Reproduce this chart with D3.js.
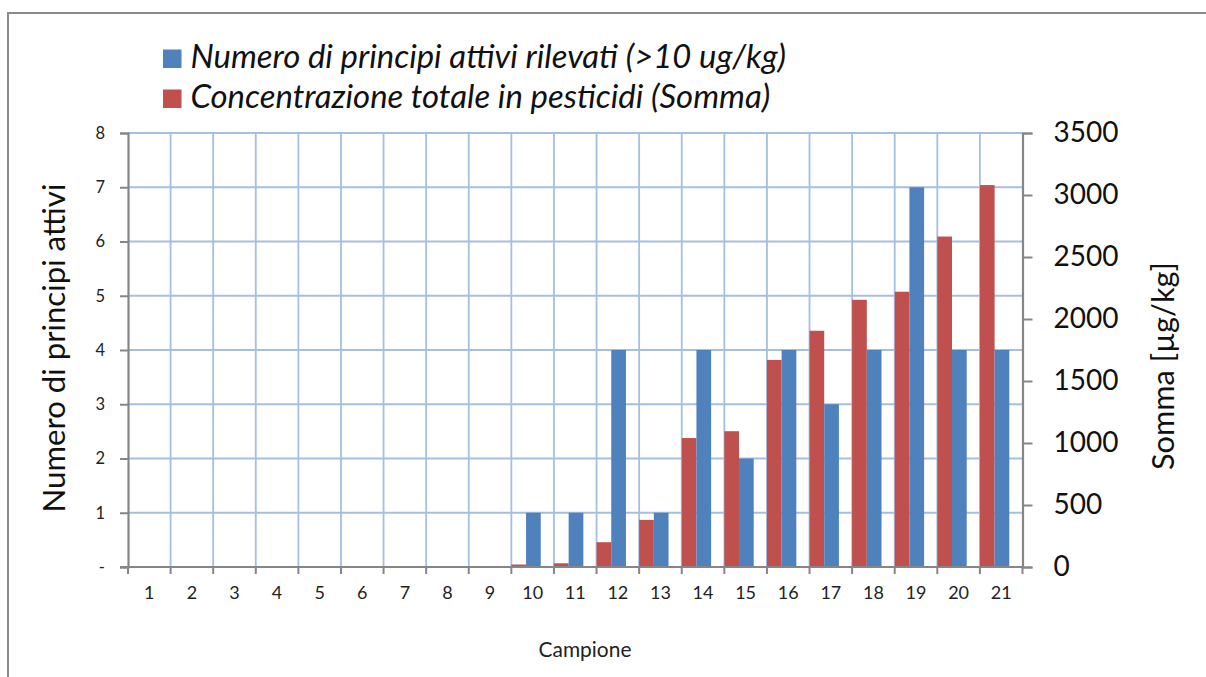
<!DOCTYPE html>
<html><head><meta charset="utf-8">
<script src="https://cdn.jsdelivr.net/npm/d3@7"></script>
<style>
html,body{margin:0;padding:0;background:#fff;}
svg{display:block;font-family:Lato,"Open Sans",sans-serif;}
</style></head>
<body>
<svg id="chart" width="1206" height="677"></svg>
<script>
const categories = ["1","2","3","4","5","6","7","8","9","10","11","12","13","14","15","16","17","18","19","20","21"];
const numeroPrincipi = [0,0,0,0,0,0,0,0,0,1,1,4,1,4,2,4,3,4,7,4,4];
const sommaConc = [0,0,0,0,0,0,0,0,0,20,30,200,380,1040,1095,1670,1905,2155,2220,2665,3080];
const leftTicks = [0,1,2,3,4,5,6,7,8];
const leftTickLabels = ["-","1","2","3","4","5","6","7","8"];
const rightTicks = [0,500,1000,1500,2000,2500,3000,3500];
const seriesNames = ["Numero di principi attivi rilevati (>10 ug/kg)","Concentrazione totale in pesticidi (Somma)"];
const leftTitle = "Numero di principi attivi";
const rightTitle = "Somma [µg/kg]";
const xTitle = "Campione";

const blue = "#4f81bd", red = "#c0504d", gridC = "#a4bfe2", axisC = "#868686";
const svg = d3.select("#chart");
const L = 128, R = 1022.5, T = 133, B = 567;

// frame
svg.append("path").attr("d","M8,690 L8,13 L1210,13").attr("fill","none").attr("stroke","#8a8a8a").attr("stroke-width",2);

const x = d3.scaleBand().domain(categories).range([L,R]).padding(0);
const yL = d3.scaleLinear().domain([0,8]).range([B,T]);
const yR = d3.scaleLinear().domain([0,3500]).range([B,T]);
const bw = x.bandwidth();

// gridlines
const g = svg.append("g");
g.selectAll("line.h").data(leftTicks.slice(1)).join("line")
  .attr("x1",L).attr("x2",R).attr("y1",d=>yL(d)).attr("y2",d=>yL(d))
  .attr("stroke",gridC).attr("stroke-width",1.8);
g.selectAll("line.v").data(categories.slice(1)).join("line")
  .attr("x1",d=>x(d)).attr("x2",d=>x(d)).attr("y1",T).attr("y2",B)
  .attr("stroke",gridC).attr("stroke-width",1.8);

// bars
const barW = bw*0.345;
svg.append("g").selectAll("rect").data(categories).join("rect")
  .attr("x",d=>x(d)).attr("width",barW)
  .attr("y",(d,i)=>yR(sommaConc[i])).attr("height",(d,i)=>B-yR(sommaConc[i]))
  .attr("fill",red);
svg.append("g").selectAll("rect").data(categories).join("rect")
  .attr("x",d=>x(d)+barW).attr("width",barW)
  .attr("y",(d,i)=>yL(numeroPrincipi[i])).attr("height",(d,i)=>B-yL(numeroPrincipi[i]))
  .attr("fill",blue);

// left axis
const axL = svg.append("g").attr("transform",`translate(${L},0)`)
  .call(d3.axisLeft(yL).tickValues(leftTicks).tickFormat((d,i)=>leftTickLabels[i]).tickSize(8).tickPadding(15));
axL.select(".domain").attr("stroke",axisC).attr("stroke-width",2.2);
axL.selectAll(".tick line").attr("stroke",axisC).attr("stroke-width",2);
axL.selectAll("text").attr("font-size",16.5).attr("fill","#222").attr("font-family","Lato");

// right axis
const axR = svg.append("g").attr("transform",`translate(${R},0)`)
  .call(d3.axisRight(yR).tickValues(rightTicks).tickFormat(d3.format("d")).tickSize(10).tickPadding(21));
axR.select(".domain").attr("stroke",axisC).attr("stroke-width",2.2);
axR.selectAll(".tick line").attr("stroke",axisC).attr("stroke-width",2);
axR.selectAll("text").attr("font-size",28).attr("fill","#111").attr("font-family","Lato");

// bottom axis
const axB = svg.append("g").attr("transform",`translate(0,${B})`);
axB.append("line").attr("x1",L-8).attr("x2",R).attr("y1",0).attr("y2",0).attr("stroke",axisC).attr("stroke-width",2.2);
axB.selectAll("line.t").data(categories.concat(["end"])).join("line")
  .attr("x1",(d,i)=>L+i*bw).attr("x2",(d,i)=>L+i*bw).attr("y1",0).attr("y2",7)
  .attr("stroke",axisC).attr("stroke-width",2);
axB.selectAll("text").data(categories).join("text")
  .attr("x",d=>x(d)+bw/2).attr("y",32).attr("text-anchor","middle")
  .attr("font-size",18).attr("fill","#222").text(d=>d);

function fit(sel, w){ const n=sel.node(); const cur=+sel.attr("font-size"); const m=n.getComputedTextLength(); sel.attr("font-size",cur*w/m); }

// titles
const lt = svg.append("text").attr("transform","translate(65,348) rotate(-90)")
  .attr("text-anchor","middle").attr("font-size",28).attr("fill","#111").text(leftTitle);
fit(lt,329);
const rt = svg.append("text").attr("transform","translate(1174,366) rotate(-90)")
  .attr("text-anchor","middle").attr("font-size",24).attr("fill","#111").text(rightTitle);
fit(rt,208);
const xt = svg.append("text").attr("x",585).attr("y",657).attr("text-anchor","middle")
  .attr("font-size",20).attr("fill","#222").text(xTitle);
fit(xt,93);

// legend
const leg = svg.append("g");
[[blue,seriesNames[0],49.5,68],[red,seriesNames[1],89.5,108]].forEach(([c,t,ry,by],i)=>{
  leg.append("rect").attr("x",163).attr("y",ry).attr("width",18.5).attr("height",18.5).attr("fill",c);
  const tx = leg.append("text").attr("x",190.5).attr("y",by).attr("font-style","italic")
    .attr("font-size",27).attr("fill","#111").text(t);
  fit(tx, i===0 ? 596 : 580);
});
</script>
</body></html>
